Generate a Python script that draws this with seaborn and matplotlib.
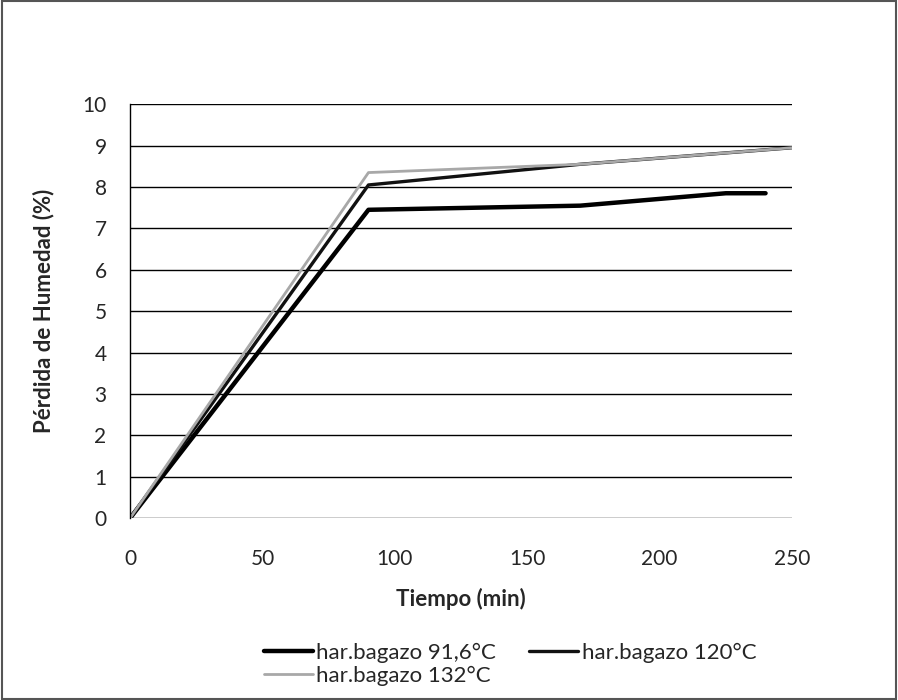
import pandas as pd
import matplotlib
matplotlib.use("Agg")
import matplotlib.pyplot as plt
import seaborn as sns
from matplotlib.patches import Rectangle

# data
t_916 = [0, 90, 170, 225, 240]
h_916 = [0, 7.45, 7.55, 7.85, 7.85]
t_120 = [0, 90, 170, 250]
h_120 = [0, 8.05, 8.55, 8.95]
t_132 = [0, 90, 170, 250]
h_132 = [0, 8.35, 8.55, 8.95]

labels = ["har.bagazo 91,6°C", "har.bagazo 120°C", "har.bagazo 132°C"]
colors = ["#000000", "#111111", "#a8a8a8"]
widths = [3.2, 2.4, 2.0]

sns.set_style("white")
plt.rcParams['font.family'] = ['Lato', 'DejaVu Sans']

fig = plt.figure(figsize=(8.98, 7.0), dpi=100)
ax = fig.add_axes([0.145, 0.26, 0.737, 0.591])

series = [(t_916, h_916), (t_120, h_120), (t_132, h_132)]
for (t, h), lab, c, w in zip(series, labels, colors, widths):
    df = pd.DataFrame({"t": t, "h": h})
    sns.lineplot(data=df, x="t", y="h", ax=ax, color=c, linewidth=w, label=lab)

ax.set_xlim(0, 250)
ax.set_ylim(0, 10)
ax.set_xticks(range(0, 251, 50))
ax.set_yticks(range(0, 11))
ax.yaxis.grid(True, color="black", linewidth=1.0)
ax.xaxis.grid(False)
for s in ["top", "right", "bottom"]:
    ax.spines[s].set_visible(False)
ax.spines["left"].set_color("black")
ax.spines["left"].set_linewidth(1.0)
ax.tick_params(axis="both", length=0, labelsize=15)
ax.tick_params(axis="x", pad=22)
ax.tick_params(axis="y", pad=17)
ax.set_xlabel("Tiempo (min)", fontsize=16, fontweight="bold", labelpad=14)
ax.set_ylabel("Pérdida de Humedad (%)", fontsize=16, fontweight="bold", labelpad=20)

ax.get_legend().remove()
handles, labs = ax.get_legend_handles_labels()
# row-major order: 91,6 and 120 on the first row, 132 below
order = [0, 2, 1]
fig.legend([handles[i] for i in order], [labs[i] for i in order],
           loc="center", bbox_to_anchor=(0.568, 0.051), ncol=2,
           frameon=False, fontsize=16, handlelength=2.2, handletextpad=0.15,
           columnspacing=1.5, labelspacing=0.1)

# scanned page frame
fig.patches.append(Rectangle((0.002, 0.002), 0.996, 0.996, transform=fig.transFigure,
                             fill=False, edgecolor="#555555", linewidth=1.5))

fig.savefig("out.png", dpi=100)
